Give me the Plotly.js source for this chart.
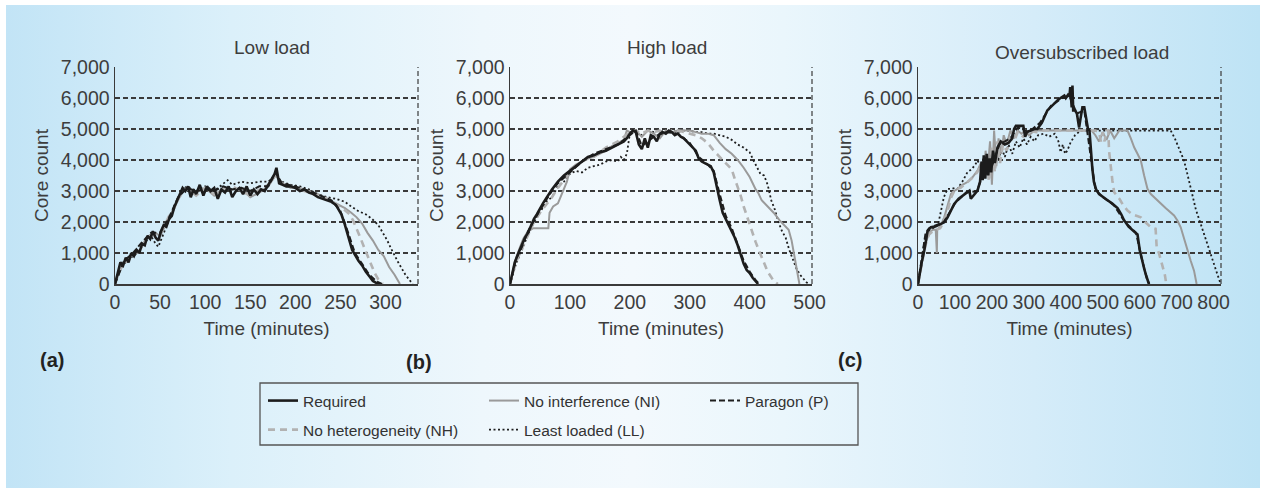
<!DOCTYPE html>
<html>
<head>
<meta charset="utf-8">
<script src="https://cdn.plot.ly/plotly-3.0.1.min.js"></script>
<style>
  html, body { margin:0; padding:0; background:#ffffff; }
  #wrap { position:relative; width:1264px; height:492px; overflow:hidden; background:#ffffff; }
  #bg { position:absolute; left:6px; top:5px; width:1254px; height:483px;
        background: linear-gradient(90deg, #c2e4f6 0%, #dbf0fa 18%, #eef7fc 38%, #f3f9fd 50%, #eaf6fc 62%, #d5ecf9 82%, #bee3f5 100%); }
  #chart { position:absolute; left:0; top:0; width:1264px; height:492px; }
</style>
</head>
<body>
<div id="wrap"><div id="bg"></div><div id="chart"></div></div>
<script>
// ---------------- DATA ----------------
// (a) Low load
const lowReqT = [0,3,6,9,12,15,18,21,24,27,30,33,36,39,42,45,48,51,54,57,60,63,66,69,72,75,78,81,84,87,90,94,98,102,106,110,114,118,122,126,130,134,138,142,146,150,154,158,162,166,170,174,177,179,182,186,190,195,200,205,210,215,220,225,230,235,240,245,248,251,254,257,260,263,266,270,274,278,282,286,290,294];
const lowReqV = [0,350,700,600,850,700,1000,900,1100,1000,1300,1250,1550,1450,1700,1500,1400,1700,1900,1850,2100,2200,2500,2700,2900,3100,3000,3150,2800,3050,2900,3200,2850,3150,3000,3100,2750,3050,2950,3150,2800,3000,3100,2900,3150,2850,3050,2900,3050,3000,3200,3400,3550,3750,3250,3200,3150,3150,3100,3000,3050,2950,2900,2800,2750,2700,2650,2550,2400,2250,2000,1700,1450,1100,950,750,600,400,250,100,30,0];
const lowParT = [0,10,20,30,40,50,60,70,80,90,100,110,120,130,140,150,160,170,178,185,200,220,240,250,258,266,274,282,290,296];
const lowParV = [0,750,1000,1350,1650,1650,2150,2800,3100,3000,3050,3000,3150,3050,3100,3000,3150,3150,3600,3250,3150,2950,2700,2350,1700,1000,650,300,80,0];
const lowNhT = [0,5,10,15,20,25,30,35,40,45,50,55,60,65,70,75,80,90,100,110,120,130,140,150,160,170,178,185,195,205,215,225,235,242,248,254,260,264,268,272,276,280,284,288,292,297];
const lowNhV = [0,450,650,800,950,1050,1250,1450,1550,1600,1650,1900,2200,2400,2750,2950,3100,2850,3100,2900,3050,3150,3000,2850,3050,3200,3550,3250,3150,3050,2950,2850,2750,2650,2500,2400,2250,2050,1800,1500,1200,900,600,350,150,0];
const lowNiT = [0,5,10,15,20,25,30,35,40,45,50,55,60,65,70,75,80,90,100,110,120,130,140,150,160,170,178,185,195,205,215,225,235,245,255,262,268,274,280,286,292,298,304,310,316];
const lowNiV = [0,400,700,750,1000,1000,1200,1500,1600,1650,1550,1850,2150,2450,2700,3000,3050,2950,3100,2850,3100,3050,3100,2800,2950,3150,3500,3250,3100,3100,3000,2900,2750,2600,2450,2300,2150,1950,1650,1400,1100,900,550,300,0];
const lowLlT = [0,5,10,15,20,25,30,35,40,45,48,52,56,60,65,70,75,80,90,100,110,120,125,130,140,150,160,170,178,185,195,205,215,225,235,245,255,262,270,278,285,292,298,302,306,310,314,318,322,326,330];
const lowLlV = [0,400,650,800,900,1000,1200,1400,1550,1300,1200,1500,1800,2100,2450,2800,3050,3150,3000,3150,3000,3250,3350,3200,3300,3250,3300,3300,3500,3300,3200,3150,3050,2900,2800,2750,2650,2500,2350,2250,2100,1900,1600,1400,1150,900,700,500,300,150,0];

// (b) High load
const highReqT = [0,4,8,12,16,20,25,30,35,40,45,50,55,60,65,70,80,90,100,110,120,130,140,150,160,170,180,190,195,200,205,210,215,220,225,230,235,240,245,250,255,260,265,270,275,280,285,290,295,300,305,310,315,320,325,330,335,340,345,350,355,360,365,370,375,380,385,390,395,400,405,410,414];
const highReqV = [0,400,700,900,1100,1250,1500,1650,1900,2100,2250,2450,2600,2750,2900,3050,3300,3500,3650,3800,3950,4100,4150,4250,4300,4400,4500,4600,4700,4850,4950,4900,4500,4350,4700,4400,4800,4750,4600,4850,4900,4850,4950,4900,4800,4850,4750,4700,4600,4500,4400,4300,4050,3950,3900,3850,3800,3600,3100,2700,2300,2100,1900,1750,1500,1250,950,650,450,350,200,80,0];
const highParT = [0,10,20,30,40,50,60,70,80,100,120,140,160,180,200,210,220,230,240,260,280,300,315,330,340,350,360,370,380,390,400,410,416];
const highParV = [0,800,1200,1700,2050,2400,2700,3000,3250,3600,3950,4200,4350,4500,4800,4950,4450,4600,4750,4900,4850,4550,4100,3850,3650,2900,2200,1800,1300,750,400,120,0];
const highNhT = [0,10,20,30,40,50,60,70,80,90,100,110,120,130,140,150,160,170,180,190,200,210,220,230,240,250,260,270,280,290,300,310,320,330,340,345,350,355,360,365,370,375,380,385,390,395,400,405,410,415,420,425,430,435,440,447];
const highNhV = [0,700,1150,1600,2000,2300,2550,2800,3100,3350,3650,3800,3950,4050,4100,4250,4400,4500,4600,4750,4900,4950,4850,4950,4900,4950,4850,4950,4950,4900,4850,4800,4700,4550,4300,4200,4100,4000,3900,3800,3700,3400,3150,2850,2500,2200,1950,1650,1350,1100,850,600,400,250,100,0];
const highNiT = [0,8,15,22,30,39,50,64,66,72,80,88,95,100,110,120,130,140,150,160,170,180,190,195,200,210,220,230,240,250,260,270,280,290,300,310,320,330,340,350,360,370,380,390,400,410,414,420,430,440,450,460,465,470,475,480,483];
const highNiV = [0,700,1100,1450,1700,1800,1800,1800,2300,2500,2600,3000,3300,3700,3850,3950,4050,4100,4200,4300,4450,4550,4650,4950,4900,4950,4750,4950,4850,4700,4950,4900,4950,4950,4950,4900,4850,4850,4800,4550,4350,4200,4000,3750,3450,3050,2950,2700,2500,2300,2050,1850,1750,1400,900,300,0];
const highLlT = [0,10,20,30,40,50,60,70,80,90,100,110,120,130,140,150,160,170,180,185,190,195,200,210,220,230,240,250,260,270,280,290,300,310,320,330,340,350,360,370,380,390,400,406,412,418,424,430,436,442,448,454,460,466,472,478,484,490,495,500];
const highLlV = [0,650,1100,1600,2000,2300,2650,2800,3150,3300,3550,3650,3600,3750,3800,3850,3950,4000,3950,4100,4000,4200,4850,4950,4800,4950,4900,4950,4900,4950,4900,4950,4950,4900,4900,4850,4850,4800,4750,4650,4500,4400,4250,4000,3750,3550,3500,3200,2700,2400,2000,1700,1500,1100,800,500,300,150,50,0];

// (c) Oversubscribed load
const overReqT = [0,5,10,17,22,26,35,45,55,65,71,80,90,98,110,125,139,143,150,161,168,172,175,178,182,186,190,194,198,203,208,215,224,235,245,255,260,265,275,285,290,295,305,315,323,335,350,360,368,380,396,400,406,410,412,416,418,420,425,430,436,440,445,450,455,460,464,468,472,476,482,490,500,513,525,540,550,558,570,585,594,600,605,612,618,625];
const overReqV = [0,400,700,1080,1450,1720,1830,1850,1900,1950,1990,2150,2400,2580,2750,2900,3010,2750,2850,3010,3300,3950,3350,4150,3400,4200,3500,4050,3600,4300,3900,4400,4600,4500,4550,4700,5000,5100,5100,5100,4750,4900,4950,5000,5000,5200,5600,5700,5810,5950,6080,6000,6100,6050,6350,5700,6400,5600,5600,5500,5050,5350,5700,5700,5300,5000,4950,4200,3700,3300,3050,2900,2800,2700,2600,2450,2250,2050,1850,1700,1600,1100,800,500,250,0];
const overParT = [0,10,20,30,50,70,100,130,160,180,200,220,250,270,300,330,360,390,410,430,450,470,480,500,530,560,590,605,620,626];
const overParV = [0,750,1600,1800,1900,2000,2600,2950,3000,3700,3800,4500,4700,5050,4900,5200,5750,6000,6050,5500,5600,4000,3050,2800,2550,2000,1650,850,150,0];
const overNhT = [0,10,20,30,40,50,60,70,80,90,100,115,130,145,160,170,178,185,192,200,208,215,222,230,240,250,260,270,285,300,320,340,360,380,400,420,440,460,480,490,495,500,505,510,515,517,520,526,531,545,555,567,580,592,603,615,630,643,646,652,661,668,672];
const overNhV = [0,650,1250,1600,1700,1750,1800,2000,2350,2800,3050,3100,3250,3400,3600,3800,3400,4100,3300,4400,3600,4600,3900,4500,4300,4700,4600,4900,4750,4950,4900,4950,4950,4950,4950,4950,4950,4950,4950,4900,4600,4900,4600,4950,4950,4300,3900,3340,2960,2750,2550,2370,2250,2200,2150,2000,1830,1780,1180,1000,650,300,0];
const overNiT = [0,10,20,30,40,48,51,52,60,71,80,89,98,107,120,134,148,161,170,178,183,188,195,200,206,212,218,225,232,240,250,260,270,280,290,300,315,330,350,380,410,440,470,480,490,500,510,520,531,545,556,567,576,585,594,603,612,621,630,648,670,693,702,711,720,729,738,747,754];
const overNiV = [0,700,1300,1650,1750,1750,1000,1750,1850,2150,2550,2900,3000,3070,3200,3290,3450,3660,3900,3500,4300,3600,4600,3200,4950,3800,4700,4200,4800,4500,4950,4700,4950,4850,4950,4800,4950,4950,4950,4950,4950,4950,4950,4800,4600,4900,4650,4950,4700,4950,4950,4950,4700,4410,4200,3980,3500,3070,2900,2690,2450,2210,2050,1830,1450,1080,750,430,0];
const overLlT = [0,5,10,17,25,35,45,55,62,70,80,90,100,107,120,134,145,155,161,170,179,188,195,202,210,218,226,235,245,255,265,275,285,295,305,315,325,340,355,370,380,386,392,398,404,413,425,440,480,520,560,600,640,670,684,695,705,720,730,742,752,765,778,792,800,810,815,819];
const overLlV = [0,300,600,1400,1650,1750,1800,1950,2370,2800,3070,3070,3100,3070,3300,3610,3700,3850,3980,3800,4090,3900,4200,3850,4300,4000,4400,4100,4500,4200,4600,4400,4700,4500,4750,4600,4800,4850,4750,4850,4600,4250,4500,4200,4300,4570,4800,4950,4950,4950,4950,4950,4950,4950,4950,4700,4400,3980,3500,2900,2400,1940,1450,970,700,320,150,0];

// Labels
const panelTitles = ["Low load", "High load", "Oversubscribed load"];
const panelLetters = ["(a)", "(b)", "(c)"];
const xTitle = "Time (minutes)";
const yTitle = "Core count";
const seriesNames = {req:"Required", ni:"No interference (NI)", par:"Paragon (P)", nh:"No heterogeneity (NH)", ll:"Least loaded (LL)"};
const yTickVals = [0,1000,2000,3000,4000,5000,6000,7000];

// ---------------- CHART ----------------
const W = 1264, H = 492;
const px = v => v / W;
const py = v => 1 - v / H;

const panels = [
  {xa:'x',  ya:'y',  s:{ll:[lowLlT,lowLlV],  ni:[lowNiT,lowNiV],  nh:[lowNhT,lowNhV],  par:[lowParT,lowParV],  req:[lowReqT,lowReqV]}},
  {xa:'x2', ya:'y2', s:{ll:[highLlT,highLlV],ni:[highNiT,highNiV],nh:[highNhT,highNhV],par:[highParT,highParV],req:[highReqT,highReqV]}},
  {xa:'x3', ya:'y3', s:{ll:[overLlT,overLlV],ni:[overNiT,overNiV],nh:[overNhT,overNhV],par:[overParT,overParV],req:[overReqT,overReqV]}}
];

const styles = {
  ll:  {line:{color:'#1e1e1e', width:1.8, dash:'2px,2.5px'}, legend:'legend2', rank:5},
  ni:  {line:{color:'#9a9a9a', width:2.0, dash:'solid'},     legend:'legend',  rank:2},
  nh:  {line:{color:'#b2b2b2', width:2.6, dash:'7px,5px'},   legend:'legend2', rank:4},
  par: {line:{color:'#1e1e1e', width:2.0, dash:'6px,3px'},   legend:'legend',  rank:3},
  req: {line:{color:'#1c1c1c', width:2.6, dash:'solid'},     legend:'legend',  rank:1}
};

const traces = [];
panels.forEach((p, pi) => {
  ['ll','ni','nh','par','req'].forEach(k => {
    const [t, v] = p.s[k];
    if (t.length !== v.length) throw new Error('Length mismatch panel ' + pi + ' ' + k + ': ' + t.length + ' vs ' + v.length);
    traces.push({
      type:'scatter', mode:'lines', x:t, y:v, xaxis:p.xa, yaxis:p.ya,
      name: seriesNames[k], line: styles[k].line,
      legend: styles[k].legend, legendrank: styles[k].rank,
      showlegend: pi === 0, hoverinfo:'skip'
    });
  });
});

const FONT = '"Liberation Sans", Arial, Helvetica, sans-serif';
const axisColor = '#3a3a3a';
const tickFont = {family:FONT, size:19.5, color:'#3d3d3d'};
const titleFont = {family:FONT, size:19, color:'#3d3d3d'};

function xAxis(dom, range, dtick, anchor) {
  return {domain:dom, range:range, dtick:dtick, tick0:0, anchor:anchor,
    showgrid:false, zeroline:false, showline:true, linecolor:axisColor, linewidth:1.5,
    ticks:'', tickfont:tickFont, title:{text:xTitle, font:titleFont, standoff:10},
    fixedrange:true};
}
function yAxis(dom, anchor) {
  return {domain:dom, range:[0,7000], tickvals:yTickVals, tickformat:',d', anchor:anchor,
    showgrid:true, gridcolor:axisColor, gridwidth:1.1, griddash:'5px,3px',
    zeroline:false, showline:true, linecolor:axisColor, linewidth:1.5,
    ticks:'', tickfont:tickFont, title:{text:yTitle, font:titleFont, standoff:7},
    fixedrange:true};
}

const yDom = [py(284), py(67)];
const legendCommon = {orientation:'h', xanchor:'left', yanchor:'middle',
    bgcolor:'rgba(0,0,0,0)', borderwidth:0, font:{family:FONT, size:15.5, color:'#333'},
    entrywidth:176, entrywidthmode:'pixels', traceorder:'normal'};
const layout = {
  width:W, height:H,
  margin:{l:0, r:0, t:0, b:0, pad:0},
  paper_bgcolor:'rgba(0,0,0,0)', plot_bgcolor:'rgba(0,0,0,0)',
  font:{family:FONT, color:'#333'},
  xaxis:  xAxis([px(115), px(418)], [0,336], 50, 'y'),
  yaxis:  yAxis(yDom, 'x'),
  xaxis2: xAxis([px(510), px(812)], [0,504], 100, 'y2'),
  yaxis2: yAxis(yDom, 'x2'),
  xaxis3: xAxis([px(918), px(1221)], [0,820], 100, 'y3'),
  yaxis3: yAxis(yDom, 'x3'),
  showlegend:true,
  legend:  Object.assign({}, legendCommon, {x:px(263), y:py(401)}),
  legend2: Object.assign({}, legendCommon, {x:px(263), y:py(430)}),
  annotations: [
    {text:panelTitles[0], x:px(272), y:py(47), xref:'paper', yref:'paper', showarrow:false, xanchor:'center', yanchor:'middle', font:titleFont},
    {text:panelTitles[1], x:px(667), y:py(47), xref:'paper', yref:'paper', showarrow:false, xanchor:'center', yanchor:'middle', font:titleFont},
    {text:panelTitles[2], x:px(1082), y:py(52), xref:'paper', yref:'paper', showarrow:false, xanchor:'center', yanchor:'middle', font:titleFont},
    {text:'<b>' + panelLetters[0] + '</b>', x:px(52), y:py(360), xref:'paper', yref:'paper', showarrow:false, xanchor:'center', yanchor:'middle', font:{family:FONT, size:20, color:'#222'}},
    {text:'<b>' + panelLetters[1] + '</b>', x:px(419), y:py(362), xref:'paper', yref:'paper', showarrow:false, xanchor:'center', yanchor:'middle', font:{family:FONT, size:20, color:'#222'}},
    {text:'<b>' + panelLetters[2] + '</b>', x:px(850), y:py(360), xref:'paper', yref:'paper', showarrow:false, xanchor:'center', yanchor:'middle', font:{family:FONT, size:20, color:'#222'}}
  ],
  shapes: [
    {type:'line', xref:'x domain', yref:'y domain', x0:1, x1:1, y0:0, y1:1, line:{color:axisColor, width:1.2, dash:'5px,3px'}},
    {type:'line', xref:'x2 domain', yref:'y2 domain', x0:1, x1:1, y0:0, y1:1, line:{color:axisColor, width:1.2, dash:'5px,3px'}},
    {type:'line', xref:'x3 domain', yref:'y3 domain', x0:1, x1:1, y0:0, y1:1, line:{color:axisColor, width:1.2, dash:'5px,3px'}},
    {type:'rect', xref:'paper', yref:'paper', x0:px(260), x1:px(858), y0:py(445), y1:py(383), line:{color:'#555', width:1.3}, fillcolor:'rgba(0,0,0,0)'}
  ]
};

Plotly.newPlot('chart', traces, layout, {displayModeBar:false, staticPlot:true});
</script>
</body>
</html>
